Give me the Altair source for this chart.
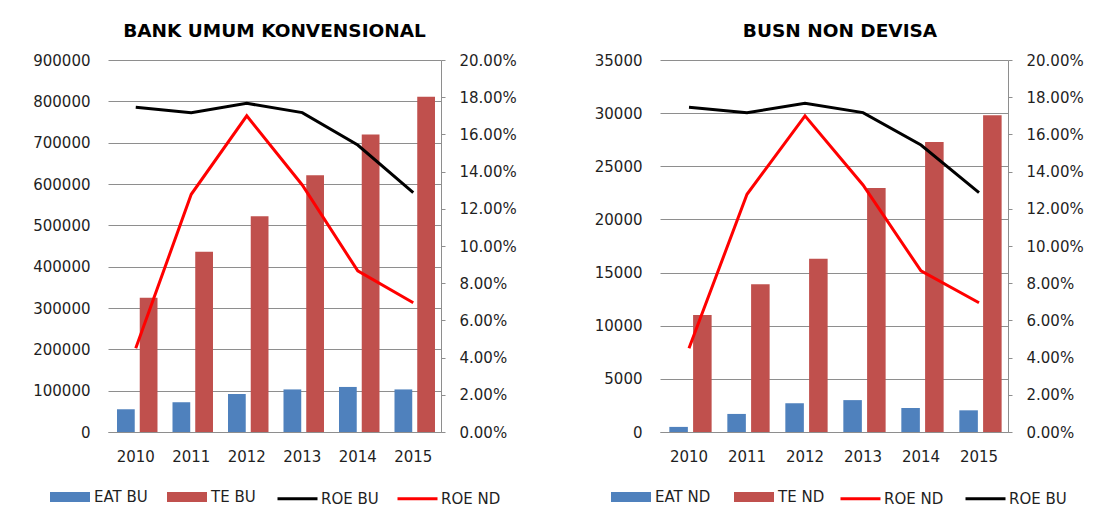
import altair as alt
import pandas as pd

# ---- data ----
years = ["2010", "2011", "2012", "2013", "2014", "2015"]

eat_bu = [55000, 72000, 92000, 103000, 109000, 103000]
te_bu = [325000, 436000, 522000, 621000, 720000, 811000]

eat_nd = [480, 1700, 2700, 3000, 2260, 2040]
te_nd = [11000, 13900, 16300, 22960, 27290, 29800]

roe_bu = [0.1746, 0.1717, 0.1767, 0.1717, 0.1543, 0.1287]
roe_nd = [0.0450, 0.1278, 0.1700, 0.1328, 0.0866, 0.0695]

bu_ticks = [0, 100000, 200000, 300000, 400000, 500000, 600000, 700000, 800000, 900000]
nd_ticks = [0, 5000, 10000, 15000, 20000, 25000, 30000, 35000]
pct_ticks = [0, 0.02, 0.04, 0.06, 0.08, 0.10, 0.12, 0.14, 0.16, 0.18, 0.20]

BLUE = "#4F81BD"
BRICK = "#C0504D"
RED = "#FF0000"
BLACK = "#000000"
GRID = "#8E8E8E"
FONT = "DejaVu Sans"
TXT = "#1F1F1F"


def panel(title, bar_names, bar_series, line_names, line_series, line_colors,
          ticks, width, offset_range, fill_legend_x, fill_pad,
          stroke_legend_x, stroke_pad, title_dx):
    bar_rows = []
    for name, vals in zip(bar_names, bar_series):
        for y, v in zip(years, vals):
            bar_rows.append({"year": y, "series": name, "value": v})
    line_rows = []
    for name, vals in zip(line_names, line_series):
        for y, v in zip(years, vals):
            line_rows.append({"year": y, "series": name, "roe": v})
    bars_df = pd.DataFrame(bar_rows)
    lines_df = pd.DataFrame(line_rows)

    x_enc = alt.X(
        "year:N",
        sort=years,
        scale=alt.Scale(paddingInner=0.27, paddingOuter=0.135),
        axis=alt.Axis(title=None, labelAngle=0, ticks=False, domainColor=GRID,
                      labelPadding=17, labelFontSize=15, labelFont=FONT,
                      labelColor=TXT),
    )

    bars = alt.Chart(bars_df).mark_bar().encode(
        x=x_enc,
        xOffset=alt.XOffset("series:N", sort=bar_names,
                            scale=alt.Scale(domain=bar_names, range=offset_range,
                                            paddingInner=0.22)),
        y=alt.Y("value:Q",
                scale=alt.Scale(domain=[0, ticks[-1]], nice=False),
                axis=alt.Axis(title=None, values=ticks, format="d", grid=True,
                              gridColor=GRID, gridWidth=1, domain=False,
                              ticks=False, labelPadding=18, labelFontSize=15,
                              labelFont=FONT, labelColor=TXT,
                              minExtent=94, maxExtent=94)),
        fill=alt.Fill("series:N", sort=bar_names,
                      scale=alt.Scale(domain=bar_names, range=[BLUE, BRICK]),
                      legend=alt.Legend(title=None, orient="none",
                                        legendX=fill_legend_x, legendY=427,
                                        direction="horizontal", columns=2,
                                        symbolType="M-2,-0.5H2V0.5H-2Z",
                                        symbolSize=400, symbolStrokeWidth=0,
                                        labelOffset=14, columnPadding=fill_pad,
                                        labelFontSize=15, labelFont=FONT,
                                        labelColor=TXT)),
    )

    lines = alt.Chart(lines_df).mark_line(strokeWidth=3).encode(
        x=alt.X("year:N", sort=years),
        y=alt.Y("roe:Q",
                scale=alt.Scale(domain=[0, 0.2], nice=False),
                axis=alt.Axis(title=None, orient="right", values=pct_ticks,
                              format=".2%", grid=False, domainColor=GRID,
                              tickColor=GRID, tickSize=4, labelPadding=14,
                              labelFontSize=15, labelFont=FONT, labelColor=TXT,
                              minExtent=75, maxExtent=75)),
        stroke=alt.Stroke("series:N", sort=line_names,
                          scale=alt.Scale(domain=line_names, range=line_colors),
                          legend=alt.Legend(title=None, orient="none",
                                            legendX=stroke_legend_x, legendY=427,
                                            direction="horizontal", columns=2,
                                            symbolType="M-2,0H2",
                                            symbolSize=400, symbolStrokeWidth=3,
                                            labelOffset=12,
                                            columnPadding=stroke_pad,
                                            labelFontSize=15, labelFont=FONT,
                                            labelColor=TXT)),
    )

    return alt.layer(bars, lines).resolve_scale(y="independent").properties(
        width=width,
        height=372,
        title=alt.Title(title, fontSize=18.5, font=FONT, fontWeight="bold",
                        color=BLACK, offset=13, dx=title_dx),
    )


left = panel("BANK UMUM KONVENSIONAL", ["EAT BU", "TE BU"], [eat_bu, te_bu],
             ["ROE BU", "ROE ND"], [roe_bu, roe_nd], [BLACK, RED],
             bu_ticks, 333, [1.5, 42.0], -48, 19, 178, 12, 0)
right = panel("BUSN NON DEVISA", ["EAT ND", "TE ND"], [eat_nd, te_nd],
              ["ROE ND", "ROE BU"], [roe_nd, roe_bu], [RED, BLACK],
              nd_ticks, 348, [1.5, 43.8], -39, 23, 189, 15, 6)

chart = alt.hconcat(left, right, spacing=48).resolve_scale(
    y="independent", xOffset="independent", fill="independent",
    stroke="independent"
).resolve_legend(fill="independent", stroke="independent").configure_view(
    stroke="transparent"
).properties(
    padding={"left": 5, "top": 13, "right": 5, "bottom": 0}
)

chart.save("out.html", embed_options={"renderer": "svg", "actions": False})
